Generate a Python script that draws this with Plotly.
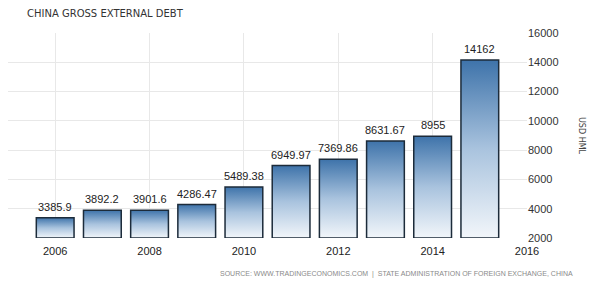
import plotly.graph_objects as go

years = [2006, 2007, 2008, 2009, 2010, 2011, 2012, 2013, 2014, 2015]
debt = [3385.9, 3892.2, 3901.6, 4286.47, 5489.38, 6949.97, 7369.86, 8631.67, 8955, 14162]
labels = ["3385.9", "3892.2", "3901.6", "4286.47", "5489.38", "6949.97", "7369.86", "8631.67", "8955", "14162"]
base = 2000
bar_w = 0.8

fig = go.Figure()
for yr, v in zip(years, debt):
    x0, x1 = yr - bar_w / 2, yr + bar_w / 2
    fig.add_trace(go.Scatter(
        x=[x0, x0, x1, x1, x0], y=[base, v, v, base, base],
        mode="lines", fill="toself",
        line=dict(color="#1c2b3a", width=1.5),
        fillgradient=dict(type="vertical",
                          colorscale=[[0, "#f2f6fa"], [0.5, "#a9c3de"], [1, "#3e73aa"]]),
        hoverinfo="skip", showlegend=False,
    ))

annots = [
    dict(x=yr, y=v, text=t, xref="x", yref="y", xanchor="center", yanchor="bottom",
         yshift=3, showarrow=False,
         font=dict(family="Liberation Sans", size=11, color="#222"))
    for yr, v, t in zip(years, debt, labels)
]

annots += [
    dict(text="CHINA GROSS EXTERNAL DEBT", xref="paper", yref="paper",
         x=-0.0, y=1.0, xanchor="left", yanchor="bottom", xshift=17, yshift=12,
         showarrow=False, font=dict(family="DejaVu Sans", size=10, color="#333")),
    dict(text="USD HML", xref="paper", yref="paper", x=1, y=0.5, xshift=61,
         textangle=90, showarrow=False,
         font=dict(family="DejaVu Sans", size=8, color="#444")),
    dict(text="SOURCE: WWW.TRADINGECONOMICS.COM  |  STATE ADMINISTRATION OF FOREIGN EXCHANGE, CHINA",
         xref="paper", yref="paper", x=1, y=0, xanchor="right", yanchor="top",
         xshift=48, yshift=-30, showarrow=False,
         font=dict(family="Liberation Sans", size=7, color="#8a8a8a")),
]

fig.update_layout(
    width=605, height=298,
    margin=dict(l=8, r=78, t=33, b=60),
    paper_bgcolor="white", plot_bgcolor="white",
    xaxis=dict(range=[2005, 2016], tickvals=[2006, 2008, 2010, 2012, 2014, 2016],
               ticktext=["2006", "2008", "2010", "2012", "2014", "2016"],
               showgrid=True, gridcolor="#e8e8e8", zeroline=False, showline=False,
               ticks="", ticklabelstandoff=5,
               tickfont=dict(family="Liberation Sans", size=11, color="#222")),
    yaxis=dict(range=[2000, 16000], side="right", dtick=2000, tickformat="d",
               showgrid=True, gridcolor="#e8e8e8", zeroline=False, showline=False,
               ticks="", tickfont=dict(family="Liberation Sans", size=11, color="#333")),
    annotations=annots,
)

fig.write_html("out.html")
